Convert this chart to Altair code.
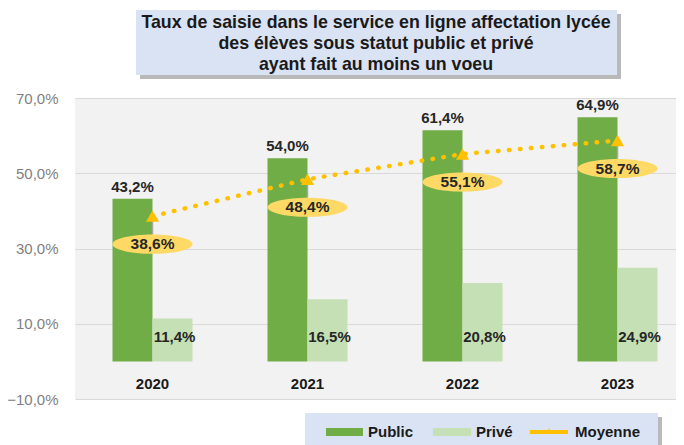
import altair as alt
import pandas as pd

# ---- data ----
years = ["2020", "2021", "2022", "2023"]
public = [43.2, 54.0, 61.4, 64.9]
prive = [11.4, 16.5, 20.8, 24.9]
moyenne = [38.6, 48.4, 55.1, 58.7]
series = ["Public", "Privé"]
y_ticks = [-10, 10, 30, 50, 70]
title_lines = [
    "Taux de saisie dans le service en ligne affectation lycée",
    "des élèves  sous statut public et privé",
    "ayant fait au moins un voeu",
]
legend_labels = ["Public", "Privé", "Moyenne"]

# ---- styles ----
C_PUB = "#70AD47"
C_PRI = "#C5E0B4"
C_MOY = "#FFC000"
C_ELL = "#FFD966"
C_BOX = "#DAE3F3"
SANS = "Liberation Sans, Arial, sans-serif"


def fr(v):
    return f"{v:.1f}".replace(".", ",") + "%"


bars_df = pd.DataFrame({
    "year": years * 2,
    "series": ["Public"] * len(years) + ["Privé"] * len(years),
    "value": public + prive,
})
bars_df["label"] = bars_df["value"].map(fr)
moy_df = pd.DataFrame({"year": years, "value": moyenne, "label": [fr(v) for v in moyenne]})
one = pd.DataFrame({"k": [0]})

xscale = alt.Scale(domain=years, range=[0, 620], paddingInner=0.484, paddingOuter=0.242)
yscale = alt.Scale(domain=[-10, 70], nice=False, zero=False)
X = alt.X("year:N", scale=xscale, axis=None)
XO = alt.XOffset("series:N", scale=alt.Scale(domain=series))
yaxis = alt.Axis(
    values=y_ticks, title=None, domain=False, ticks=False, grid=True,
    gridColor="#d9d9d9", gridWidth=1, labelColor="#7f7f7f", labelFontSize=15,
    labelFont=SANS, labelPadding=17,
    labelExpr="replace(format(datum.value, '.1f'), '.', ',') + '%'",
)

bars = alt.Chart(bars_df).mark_bar().encode(
    x=X, xOffset=XO,
    y=alt.Y("value:Q", scale=yscale, axis=yaxis),
    color=alt.Color("series:N", scale=alt.Scale(domain=series, range=[C_PUB, C_PRI]), legend=None),
)

pub_labels = alt.Chart(bars_df).transform_filter(alt.datum.series == "Public").mark_text(
    baseline="bottom", dy=-4, fontSize=15, fontWeight="bold", font=SANS, color="#262626"
).encode(x=X, xOffset=XO, y=alt.Y("value:Q", scale=yscale), text="label:N")

pri_labels = alt.Chart(bars_df).transform_filter(alt.datum.series == "Privé").mark_text(
    baseline="middle", fontSize=15, fontWeight="bold", font=SANS, color="#262626", dx=2
).encode(x=X, xOffset=XO, y=alt.datum(6.6), text="label:N")

year_labels = alt.Chart(moy_df).mark_text(
    baseline="middle", fontSize=15, fontWeight="bold", font=SANS, color="#1a1a1a"
).encode(x=X, y=alt.datum(-6), text="year:N")

moy_line = alt.Chart(moy_df).mark_line(
    color=C_MOY, strokeWidth=4.5, strokeDash=[0.5, 10.5], strokeCap="round"
).encode(x=X, y=alt.Y("value:Q", scale=yscale))

leader = alt.Chart(moy_df).mark_rule(color="#a6a6a6", strokeWidth=1.5, y2Offset=18).encode(
    x=X, y=alt.Y("value:Q", scale=yscale), y2="value:Q"
)

tri = alt.Chart(moy_df).mark_point(
    shape="triangle-up", filled=True, color=C_MOY, size=170, opacity=1
).encode(x=X, y=alt.Y("value:Q", scale=yscale))

ELLIPSE = ("M -1 0 C -1 -0.1325 -0.5523 -0.24 0 -0.24 C 0.5523 -0.24 1 -0.1325 1 0 "
           "C 1 0.1325 0.5523 0.24 0 0.24 C -0.5523 0.24 -1 0.1325 -1 0 Z")
ell = alt.Chart(moy_df).mark_point(
    shape=ELLIPSE, filled=True, color=C_ELL, size=6400, opacity=1, yOffset=28
).encode(x=X, y=alt.Y("value:Q", scale=yscale))

ell_text = alt.Chart(moy_df).mark_text(
    baseline="middle", fontSize=15.5, fontWeight="bold", font=SANS, color="#262626", yOffset=28
).encode(x=X, y=alt.Y("value:Q", scale=yscale), text="label:N")

# ---- title box ----
title_shadow = alt.Chart(one).mark_rect(color="#7f7f7f", opacity=0.55).encode(
    x=alt.value(65), x2=alt.value(546), y=alt.value(-84), y2=alt.value(-19))
title_box = alt.Chart(one).mark_rect(color=C_BOX).encode(
    x=alt.value(61), x2=alt.value(542), y=alt.value(-88), y2=alt.value(-23))
title_text = alt.Chart(one).mark_text(
    align="center", baseline="middle", fontSize=17.8, fontWeight="bold", font=SANS,
    color="#1a1a1a", lineHeight=21
).encode(x=alt.value(301), y=alt.value(-75), text=alt.value(title_lines))

# ---- legend box ----
leg_shadow = alt.Chart(one).mark_rect(color="#7f7f7f", opacity=0.55).encode(
    x=alt.value(234), x2=alt.value(587), y=alt.value(319), y2=alt.value(360))
leg_box = alt.Chart(one).mark_rect(color=C_BOX).encode(
    x=alt.value(230), x2=alt.value(583), y=alt.value(315), y2=alt.value(360))
sw_pub = alt.Chart(one).mark_rect(color=C_PUB).encode(
    x=alt.value(251), x2=alt.value(288), y=alt.value(330), y2=alt.value(338))
sw_pri = alt.Chart(one).mark_rect(color=C_PRI).encode(
    x=alt.value(358), x2=alt.value(396), y=alt.value(330), y2=alt.value(338))
sw_moy = alt.Chart(one).mark_rule(color=C_MOY, strokeWidth=4).encode(
    x=alt.value(455), x2=alt.value(493), y=alt.value(334))
sw_tri = alt.Chart(one).mark_point(shape="triangle-up", filled=True, color=C_MOY, size=40, opacity=1).encode(
    x=alt.value(474), y=alt.value(333))
leg_txt = [
    alt.Chart(one).mark_text(align="left", baseline="middle", fontSize=15, fontWeight="bold",
                             font=SANS, color="#1a1a1a").encode(
        x=alt.value(px), y=alt.value(334), text=alt.value(lab))
    for px, lab in zip([293, 401, 500], legend_labels)
]

chart = alt.layer(
    bars, pub_labels, pri_labels, year_labels,
    moy_line, leader, ell, tri, ell_text,
    title_shadow, title_box, title_text,
    leg_shadow, leg_box, sw_pub, sw_pri, sw_moy, sw_tri, *leg_txt,
).properties(
    width=601, height=301,
    padding={"left": 67, "top": 90, "right": 0, "bottom": 46},
    autosize=alt.AutoSizeParams(type="none"),
    background="white",
).configure_view(fill="#f2f2f2", stroke=None)

chart.save("out.html", embed_options={"renderer": "svg", "actions": False})
